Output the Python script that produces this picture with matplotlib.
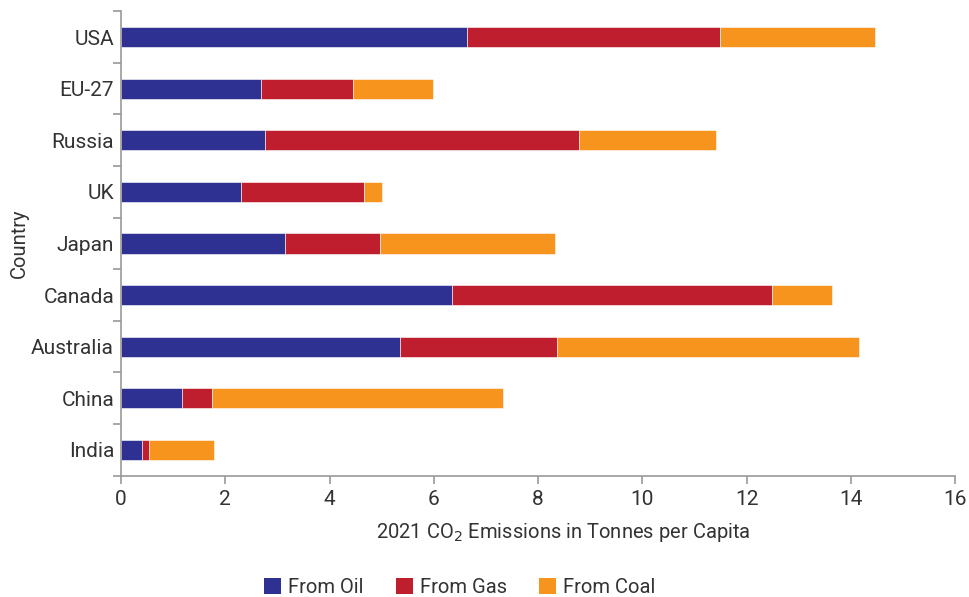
import numpy as np
import matplotlib
matplotlib.use('Agg')
import matplotlib.pyplot as plt
from matplotlib.patches import Patch

plt.rcParams['font.family'] = ['Roboto', 'DejaVu Sans']

# data (tonnes per capita, 2021)
countries = ['USA', 'EU-27', 'Russia', 'UK', 'Japan', 'Canada', 'Australia', 'China', 'India']
from_oil = [6.64, 2.69, 2.77, 2.30, 3.15, 6.34, 5.35, 1.18, 0.41]
from_gas = [4.85, 1.76, 6.02, 2.36, 1.81, 6.15, 3.01, 0.56, 0.13]
from_coal = [2.97, 1.54, 2.62, 0.35, 3.36, 1.15, 5.80, 5.59, 1.24]
series_names = ['From Oil', 'From Gas', 'From Coal']
colors = ['#2E3192', '#BE1E2D', '#F7941D']

text_col = '#333333'
axis_col = '#9a9a9a'

fig = plt.figure(figsize=(9.7, 5.97), dpi=100)
ax = fig.add_axes([0.1247, 0.2032, 0.86, 0.778])

# USA on top
ypos = np.arange(len(countries))[::-1]
left = np.zeros(len(countries))
for vals, col in zip([from_oil, from_gas, from_coal], colors):
    ax.barh(ypos, vals, left=left, height=0.39, color=col,
            edgecolor='white', linewidth=0.4)
    left = left + np.array(vals)

ax.set_xlim(0, 16)
ax.set_ylim(-0.5, len(countries) - 0.5)
ax.set_xticks(np.arange(0, 17, 2))
ax.set_yticks(ypos)
ax.set_yticklabels(countries)
ax.set_yticks(np.arange(-0.5, len(countries), 1), minor=True)

for s in ['top', 'right']:
    ax.spines[s].set_visible(False)
for s in ['left', 'bottom']:
    ax.spines[s].set_color(axis_col)
    ax.spines[s].set_linewidth(1.2)

ax.tick_params(axis='y', which='major', length=0, pad=5, labelsize=15, labelcolor=text_col)
ax.tick_params(axis='y', which='minor', length=6, width=1.2, color=axis_col)
ax.tick_params(axis='x', length=6, width=1.2, color=axis_col, pad=4,
               labelsize=15, labelcolor=text_col)

ax.set_xlabel('2021 CO$_2$ Emissions in Tonnes per Capita', fontsize=14.5,
              color=text_col)
ax.xaxis.set_label_coords(0.53, -0.098)
ax.set_ylabel('Country', fontsize=14.5, color=text_col)
ax.yaxis.set_label_coords(-0.11, 0.5)

handles = [Patch(facecolor=c, edgecolor='none') for c in colors]
fig.legend(handles, series_names, loc='lower center', bbox_to_anchor=(0.474, -0.03),
           ncol=3, frameon=False, fontsize=14.5, handlelength=0.85, handleheight=0.85,
           handletextpad=0.35, columnspacing=1.6, labelcolor=text_col)

fig.savefig('out.png', dpi=100)
